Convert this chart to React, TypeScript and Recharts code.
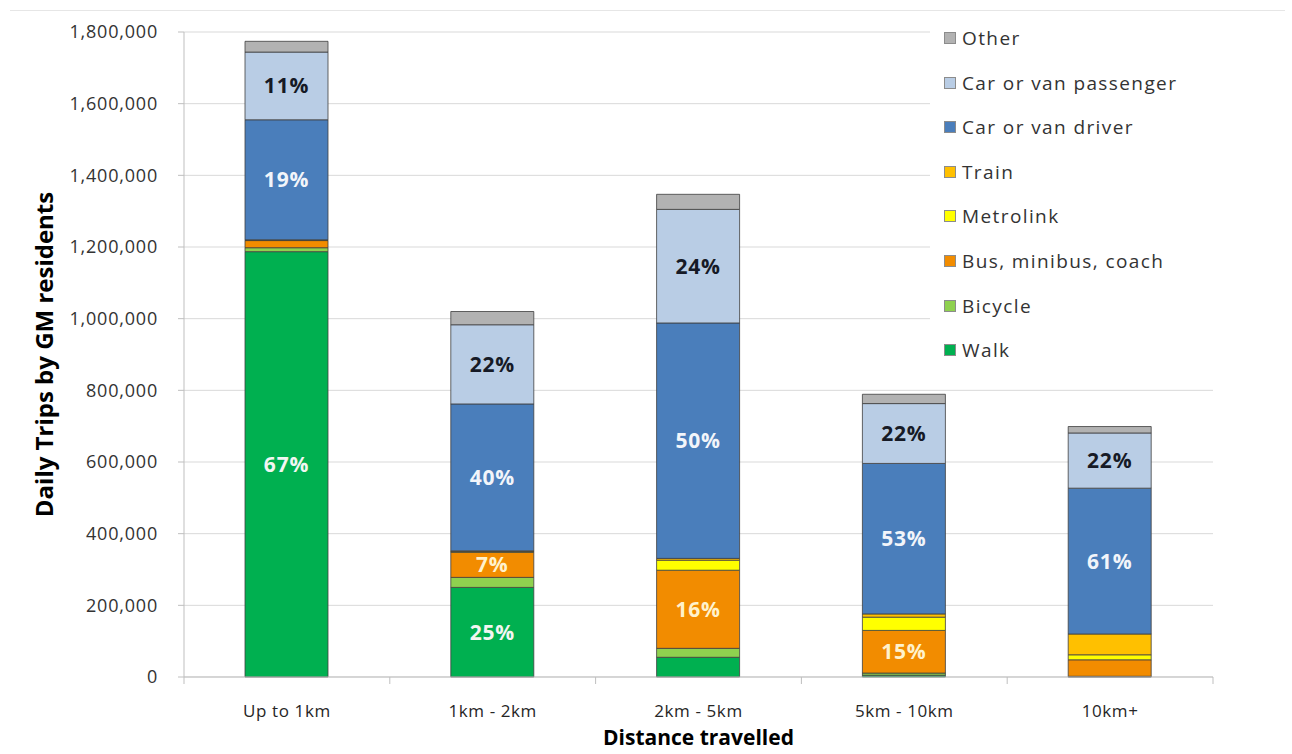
import React from 'react';
import {
  BarChart,
  Bar,
  XAxis,
  YAxis,
  CartesianGrid,
  LabelList,
} from 'recharts';

// Daily trips by distance band, split by main mode
const categories = ['Up to 1km', '1km - 2km', '2km - 5km', '5km - 10km', '10km+'];

const walk = [1187000, 250000, 55000, 5000, 1000];
const bicycle = [11000, 28000, 25000, 6000, 1000];
const bus = [20000, 70000, 218000, 119000, 46000];
const metrolink = [1000, 2000, 28000, 37000, 14000];
const train = [1000, 2000, 5000, 9000, 58000];
const driver = [335000, 410000, 657000, 420000, 407000];
const passenger = [189000, 221000, 317000, 167000, 154000];
const other = [30000, 37000, 42000, 26000, 18000];

// share-of-band labels printed inside the bigger segments
const walkLabels = ['67%', '25%', '', '', ''];
const busLabels = ['', '7%', '16%', '15%', ''];
const driverLabels = ['19%', '40%', '50%', '53%', '61%'];
const passengerLabels = ['11%', '22%', '24%', '22%', '22%'];

const yTicks = [0, 200000, 400000, 600000, 800000, 1000000, 1200000, 1400000, 1600000, 1800000];

const series = [
  { key: 'walk', name: 'Walk', color: '#00B050' },
  { key: 'bicycle', name: 'Bicycle', color: '#8FD14F' },
  { key: 'bus', name: 'Bus, minibus, coach', color: '#F28C00' },
  { key: 'metrolink', name: 'Metrolink', color: '#FFFF00' },
  { key: 'train', name: 'Train', color: '#FFC000' },
  { key: 'driver', name: 'Car or van driver', color: '#4A7EBB' },
  { key: 'passenger', name: 'Car or van passenger', color: '#B9CDE5' },
  { key: 'other', name: 'Other', color: '#B2B2B2' },
];

const data = categories.map((name, i) => ({
  name,
  walk: walk[i],
  bicycle: bicycle[i],
  bus: bus[i],
  metrolink: metrolink[i],
  train: train[i],
  driver: driver[i],
  passenger: passenger[i],
  other: other[i],
  walkLabel: walkLabels[i],
  busLabel: busLabels[i],
  driverLabel: driverLabels[i],
  passengerLabel: passengerLabels[i],
}));

const W = 1292;
const H = 754;
const MARGIN = { top: 32, right: 79, bottom: 0, left: 0 };
const Y_AXIS_W = 184;
const X_AXIS_H = 77;
const BAND = (W - MARGIN.right - Y_AXIS_W) / categories.length;

const FONT = '"Open Sans", sans-serif';

// Category tick: label under the bar plus Excel-style marks between bands
const XTick = (props: any) => {
  const { x, y, payload, index } = props;
  return (
    <g>
      <line x1={x - BAND / 2} x2={x - BAND / 2} y1={y} y2={y + 7} stroke="#BFBFBF" />
      {index === categories.length - 1 && (
        <line x1={x + BAND / 2} x2={x + BAND / 2} y1={y} y2={y + 7} stroke="#BFBFBF" />
      )}
      <text
        x={x}
        y={y + 40}
        textAnchor="middle"
        fill="#262626"
        fontSize={17}
        letterSpacing={0.6}
        fontFamily={FONT}
      >
        {payload.value}
      </text>
    </g>
  );
};

const pctLabel = (color: string) => ({
  position: 'center' as const,
  fill: color,
  fontSize: 21,
  fontWeight: 700,
  letterSpacing: 0.8,
  fontFamily: FONT,
});

const legendItems = [...series].reverse();

export default function App() {
  return (
    <div style={{ position: 'absolute', left: 0, top: 0, width: W, height: H, background: '#fff' }}>
      <div style={{ position: 'absolute', left: 10, top: 10, width: 1275, height: 1, background: '#E6E6E6' }} />
      <BarChart width={W} height={H} data={data} margin={MARGIN} barSize={83}>
        <CartesianGrid vertical={false} stroke="#D9D9D9" />
        <XAxis
          dataKey="name"
          height={X_AXIS_H}
          tickLine={false}
          tickSize={0}
          tickMargin={0}
          stroke="#BFBFBF"
          tick={<XTick />}
          interval={0}
          label={{
            value: 'Distance travelled',
            position: 'insideBottom',
            offset: 9,
            style: { fill: '#000', fontSize: 21, fontWeight: 700, fontFamily: FONT },
          }}
        />
        <YAxis
          width={Y_AXIS_W}
          domain={[0, 1800000]}
          ticks={yTicks}
          tickSize={6}
          tickMargin={20}
          stroke="#BFBFBF"
          tickFormatter={(v: number) => v.toLocaleString('en-GB')}
          tick={{ fill: '#333', fontSize: 18, letterSpacing: 0.8, fontFamily: FONT }}
          label={{
            value: 'Daily Trips by GM residents',
            angle: -90,
            position: 'insideLeft',
            offset: 44,
            style: { textAnchor: 'middle', fill: '#000', fontSize: 24, fontWeight: 700, fontFamily: FONT },
          }}
        />
        {series.map((s) => (
          <Bar
            key={s.key}
            dataKey={s.key}
            name={s.name}
            stackId="trips"
            fill={s.color}
            stroke="#3F3F3F"
            strokeWidth={0.8}
            isAnimationActive={false}
          >
            {s.key === 'walk' && <LabelList dataKey="walkLabel" {...pctLabel('#F2F6F2')} />}
            {s.key === 'bus' && <LabelList dataKey="busLabel" {...pctLabel('#FFF2CC')} />}
            {s.key === 'driver' && <LabelList dataKey="driverLabel" {...pctLabel('#F2F5FA')} />}
            {s.key === 'passenger' && <LabelList dataKey="passengerLabel" {...pctLabel('#161A26')} />}
          </Bar>
        ))}
      </BarChart>

      {/* legend box sits over the top-right of the plot */}
      <div
        style={{
          position: 'absolute',
          left: 930,
          top: 16,
          width: 283,
          height: 355,
          background: '#fff',
          fontFamily: FONT,
          fontSize: 19,
          letterSpacing: 1.4,
          color: '#333',
        }}
      >
        {legendItems.map((s, i) => (
          <div
            key={s.key}
            style={{
              position: 'absolute',
              left: 14,
              top: 22 + i * 44.6 - 13,
              height: 26,
              display: 'flex',
              alignItems: 'center',
              whiteSpace: 'nowrap',
            }}
          >
            <span
              style={{
                width: 12,
                height: 12,
                background: s.color,
                border: '1px solid #8C8C8C',
                marginRight: 6,
                boxSizing: 'border-box',
              }}
            />
            {s.name}
          </div>
        ))}
      </div>
    </div>
  );
}
